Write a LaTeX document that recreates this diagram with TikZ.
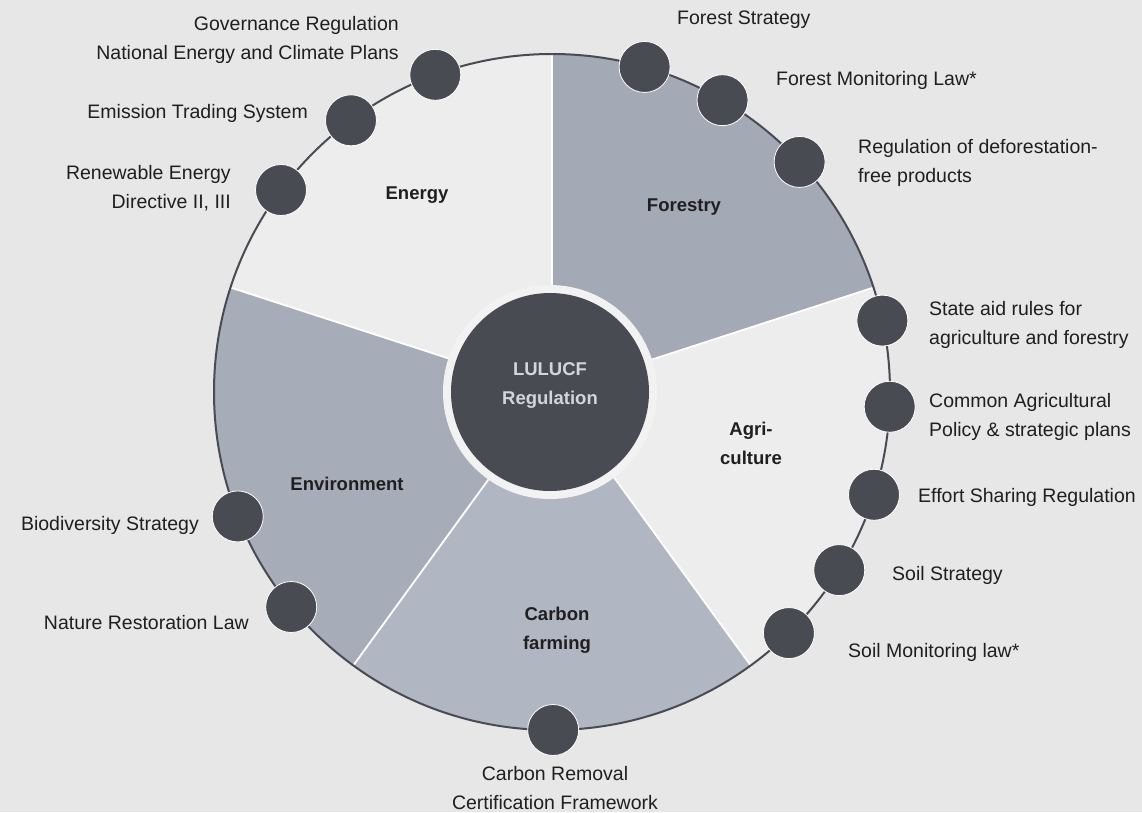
\documentclass[tikz,border=0pt]{standalone}
\usepackage{fontspec}
\setmainfont{Liberation Sans}
\definecolor{bg}{HTML}{E7E7E7}
\definecolor{lightsec}{HTML}{EDEDED}
\definecolor{forest}{HTML}{A4A9B6}
\definecolor{envir}{HTML}{A7ACB9}
\definecolor{carbon}{HTML}{B1B6C3}
\definecolor{dark}{HTML}{494B52}
\definecolor{txt}{HTML}{1F1F1F}
\definecolor{ring}{HTML}{F2F2F2}
\definecolor{hubtxt}{HTML}{D3D5DB}
\tikzset{
 dot/.style={circle, fill=dark, draw=white, line width=0.8pt, minimum size=51pt, inner sep=0pt},
 lbl/.style={inner sep=0pt, text=txt, font=\fontsize{19.5}{29.5}\selectfont},
 seclbl/.style={inner sep=0pt, text=txt, font=\fontsize{18.5}{29}\selectfont\bfseries, align=center},
 divider/.style={white, line width=1.8pt},
}
\newcommand\mysector[3]{\fill[#1] (C) -- ([shift={(#2:338)}]C) arc[start angle=#2, end angle=#3, radius=338] -- cycle;}
\begin{document}
\begin{tikzpicture}[x=1pt,y=-1pt]
\fill[bg] (0,0) rectangle (1142,812);
\useasboundingbox (0,0) rectangle (1142,812);
\coordinate (C) at (552,392);
% sectors
\mysector{forest}{-18}{-90}
\mysector{lightsec}{-90}{-162}
\mysector{envir}{-162}{-234}
\mysector{carbon}{-234}{-306}
\mysector{lightsec}{54}{-18}
% dividers
\foreach \a in {-18,-90,-162,-234,54}{
  \draw[divider] (C) -- ([shift={(\a:338)}]C);
}
% outline
\draw[dark, line width=2pt] (C) circle[radius=338];
% hub
\node[circle, fill=ring, minimum size=214pt, inner sep=0pt] (hubring) at (550,392) {};
\node[circle, fill=dark, minimum size=198pt, inner sep=0pt] (hub) at (550,392) {};
\node[seclbl, text=hubtxt] (hubtext) at (550,385) {LULUCF\\Regulation};
% sector labels
\node[seclbl] (energy) at (417,195) {Energy};
\node[seclbl] (forestry) at (684,207) {Forestry};
\node[seclbl] (agri) at (751,443) {Agri-\\culture};
\node[seclbl] (carbonf) at (557,630) {Carbon\\farming};
\node[seclbl] (environment) at (347,484) {Environment};
% dots
\node[dot] (gov) at ([shift={(-110.2:338)}]C) {};
\node[dot] (ets) at ([shift={(-126.5:338)}]C) {};
\node[dot] (red) at ([shift={(-143.3:338)}]C) {};
\node[dot] (fstr) at ([shift={(-74.1:338)}]C) {};
\node[dot] (fmon) at ([shift={(-59.7:338)}]C) {};
\node[dot] (defo) at ([shift={(-42.9:338)}]C) {};
\node[dot] (said) at ([shift={(-12.2:338)}]C) {};
\node[dot] (cap) at ([shift={(2.5:338)}]C) {};
\node[dot] (esr) at ([shift={(17.7:338)}]C) {};
\node[dot] (soils) at ([shift={(31.8:338)}]C) {};
\node[dot] (soilm) at ([shift={(45.5:338)}]C) {};
\node[dot] (crcf) at ([shift={(89.8:338)}]C) {};
\node[dot] (bio) at ([shift={(158.4:338)}]C) {};
\node[dot] (nrl) at ([shift={(140.5:338)}]C) {};
% labels
\node[lbl, anchor=east, align=right] (tgov) at (399,40) {Governance Regulation\\National Energy and Climate Plans};
\node[lbl, anchor=east] (tets) at (308,113) {Emission Trading System};
\node[lbl, anchor=east, align=right] (tred) at (231,188) {Renewable Energy\\Directive II, III};
\node[lbl, anchor=west] (tfstr) at (677,20) {Forest Strategy};
\node[lbl, anchor=west] (tfmon) at (776,80) {Forest Monitoring Law*};
\node[lbl, anchor=west, align=left] (tdefo) at (858,163) {Regulation of deforestation-\\free products};
\node[lbl, anchor=west, align=left] (tsaid) at (929,325) {State aid rules for\\agriculture and forestry};
\node[lbl, anchor=west, align=left] (tcap) at (929,417) {Common Agricultural\\Policy \& strategic plans};
\node[lbl, anchor=west] (tesr) at (918,497) {Effort Sharing Regulation};
\node[lbl, anchor=west] (tsoils) at (892,575) {Soil Strategy};
\node[lbl, anchor=west] (tsoilm) at (848,652) {Soil Monitoring law*};
\node[lbl, align=center] (tcrcf) at (555,788) {Carbon Removal\\Certification Framework};
\node[lbl, anchor=east] (tbio) at (199,525) {Biodiversity Strategy};
\node[lbl, anchor=east] (tnrl) at (249,623) {Nature Restoration Law};
\end{tikzpicture}
\end{document}
